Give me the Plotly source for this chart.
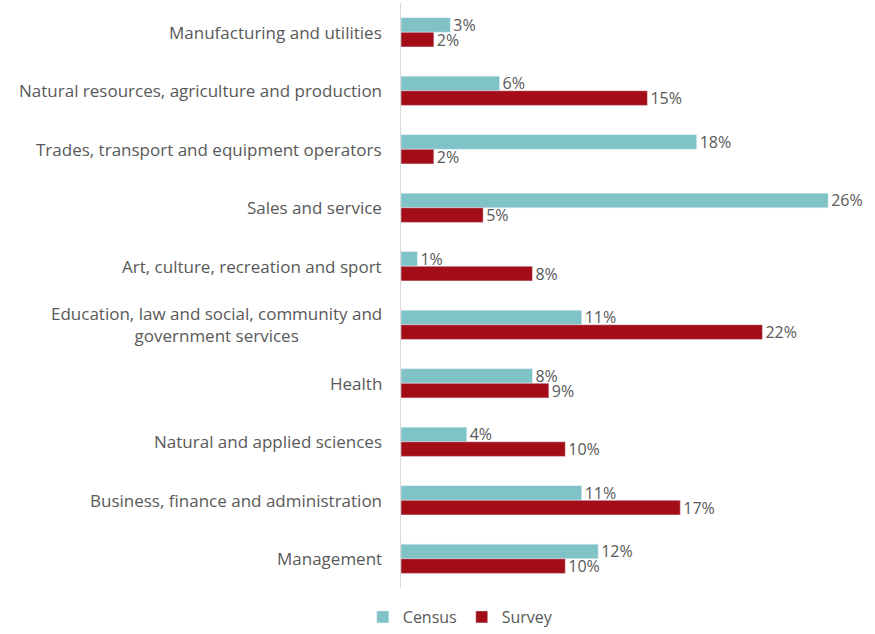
import plotly.graph_objects as go

categories = [
    "Manufacturing and utilities",
    "Natural resources, agriculture and production",
    "Trades, transport and equipment operators",
    "Sales and service",
    "Art, culture, recreation and sport",
    "Education, law and social, community and<br>government services",
    "Health",
    "Natural and applied sciences",
    "Business, finance and administration",
    "Management",
]
census = [3, 6, 18, 26, 1, 11, 8, 4, 11, 12]
survey = [2, 15, 2, 5, 8, 22, 9, 10, 17, 10]

census_color = "#7fc3c7"
survey_color = "#a30d18"
text_color = "#595959"
font_family = "'Open Sans', Lato, sans-serif"

fig = go.Figure()
for name, vals, color in [("Census", census, census_color), ("Survey", survey, survey_color)]:
    fig.add_trace(go.Bar(
        y=categories, x=vals, name=name, orientation="h",
        marker=dict(color=color),
        text=[f"{v}%" for v in vals], textposition="outside",
        constraintext="none",
        textfont=dict(size=16, color=text_color), cliponaxis=False,
    ))

# category labels drawn as centred annotations so wrapped lines stay centred
for cat in categories:
    fig.add_annotation(
        x=0, xref="paper", y=cat, yref="y", xanchor="right", xshift=-17,
        text=cat, showarrow=False, align="center",
        font=dict(size=17, color=text_color, family=font_family),
    )

fig.update_layout(
    width=875, height=634,
    margin=dict(l=401, r=14, t=3, b=46),
    paper_bgcolor="white", plot_bgcolor="white",
    barmode="group", bargap=0.5, bargroupgap=0,
    font=dict(family=font_family, size=15, color=text_color),
    showlegend=True,
    legend=dict(orientation="h", x=0.13, xanchor="center", yref="container",
                y=-0.012, yanchor="bottom", itemwidth=30,
                font=dict(size=16, color=text_color), traceorder="normal"),
)
fig.update_xaxes(range=[0, 28], visible=False, showgrid=False)
fig.update_yaxes(
    autorange="reversed", showgrid=False, showline=True, linecolor="#d9d9d9",
    linewidth=1, ticks="", showticklabels=False,
)

fig.write_html("out.html")
